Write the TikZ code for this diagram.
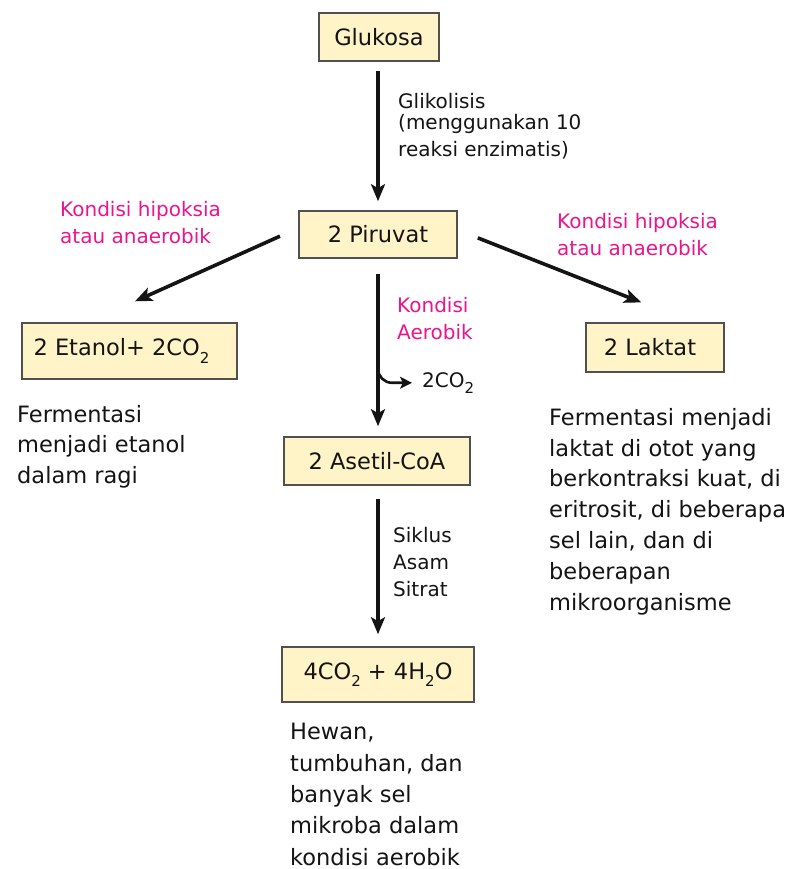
\documentclass[tikz,border=0pt]{standalone}
\usepackage{fontspec}
\setmainfont{DejaVu Sans}
\usetikzlibrary{arrows.meta,calc}
\definecolor{boxfill}{RGB}{255,243,200}
\definecolor{boxline}{RGB}{80,80,80}
\definecolor{ink}{RGB}{20,20,20}
\definecolor{cond}{RGB}{234,20,140}
\newcommand{\subtwo}{\raisebox{-0.32em}{\fontsize{15}{15}\selectfont 2}}

\tikzset{
  stage/.style={draw=boxline, line width=1.6pt, fill=boxfill, text=ink,
    font=\fontsize{22.5}{26}\selectfont, inner sep=0pt},
  flow/.style={draw=ink, line width=3.6pt,
    -{Stealth[length=17pt,width=14pt,inset=4pt]}},
  branch/.style={draw=ink, line width=2.6pt, rounded corners=14pt,
    -{Stealth[length=12pt,width=12pt,inset=3pt]}},
  note/.style={text=ink, font=\fontsize{20}{27}\selectfont, align=left,
    anchor=base west, inner sep=0pt},
  condnote/.style={note, text=cond, font=\fontsize{20}{26.5}\selectfont},
  desc/.style={text=ink, align=left, anchor=base west, inner sep=0pt},
}

\begin{document}
\begin{tikzpicture}[x=1pt, y=-1pt]
\useasboundingbox (0,0) rectangle (795,869);

% metabolic stages
\node[stage, minimum width=120pt, minimum height=48pt] (glu) at (379,37) {Glukosa};
\node[stage, minimum width=158pt, minimum height=47pt] (pir) at (378,234.5) {2 Piruvat};
\node[stage, minimum width=215pt, minimum height=56pt] (eta) at (129.5,351) {\hspace*{-16pt}2 Etanol+ 2CO\subtwo};
\node[stage, minimum width=138pt, minimum height=49pt] (lak) at (655,347.5) {\hspace*{-10pt}2 Laktat};
\node[stage, minimum width=186pt, minimum height=48pt] (ase) at (377,461) {2 Asetil-CoA};
\node[stage, minimum width=192pt, minimum height=55pt] (fin) at (378,674.5) {4CO\subtwo{} + 4H\subtwo O};

% pathway labels (anchored on the baseline of their last line)
\node[note] (gly) at (398,157) {Glikolisis\\[-6pt](menggunakan 10\\reaksi enzimatis)};
\node[condnote] (condL) at (60,243) {Kondisi hipoksia\\atau anaerobik};
\node[condnote] (condR) at (557,255) {Kondisi hipoksia\\atau anaerobik};
\node[condnote] (condA) at (397,339) {Kondisi\\Aerobik};
\node[note] (co2) at (422,387) {2CO\subtwo};
\node[note] (tca) at (393,596) {Siklus\\Asam\\Sitrat};

% descriptions under the products
\node[desc, font=\fontsize{22.5}{30.5}\selectfont] (dL) at (17,483)
  {Fermentasi\\menjadi etanol\\dalam ragi};
\node[desc, font=\fontsize{22.5}{30.8}\selectfont] (dR) at (549,610)
  {Fermentasi menjadi\\laktat di otot yang\\berkontraksi kuat, di\\eritrosit, di beberapa\\sel lain, dan di\\beberapan\\mikroorganisme};
\node[desc, font=\fontsize{22.5}{31.3}\selectfont] (dC) at (290,865)
  {Hewan,\\tumbuhan, dan\\banyak sel\\mikroba dalam\\kondisi aerobik};

% arrows
\draw[flow, shorten <=9pt, shorten >=9pt] (glu.south -| pir.north) -- (pir.north);
\draw[flow, shorten <=15pt, shorten >=10pt] (pir.south) -- (pir.south |- ase.north);
\draw[flow, shorten <=13pt, shorten >=12pt] (ase.south -| pir.south) -- (pir.south |- fin.north);
\draw[flow, shorten <=20pt, shorten >=51pt] ($(pir.west)+(0,-6.5)$) -- ($(eta.north)+(-41,0)$);
\draw[flow, shorten <=21.5pt, shorten >=54pt] ($(pir.east)+(0,-4.5)$) -- ($(lak.north)+(36.5,0)$);

% CO2 released on the way to acetyl-CoA
\coordinate (br) at (378,350);
\draw[branch, shorten >=10pt] (br) |- (co2.west);
\end{tikzpicture}
\end{document}
